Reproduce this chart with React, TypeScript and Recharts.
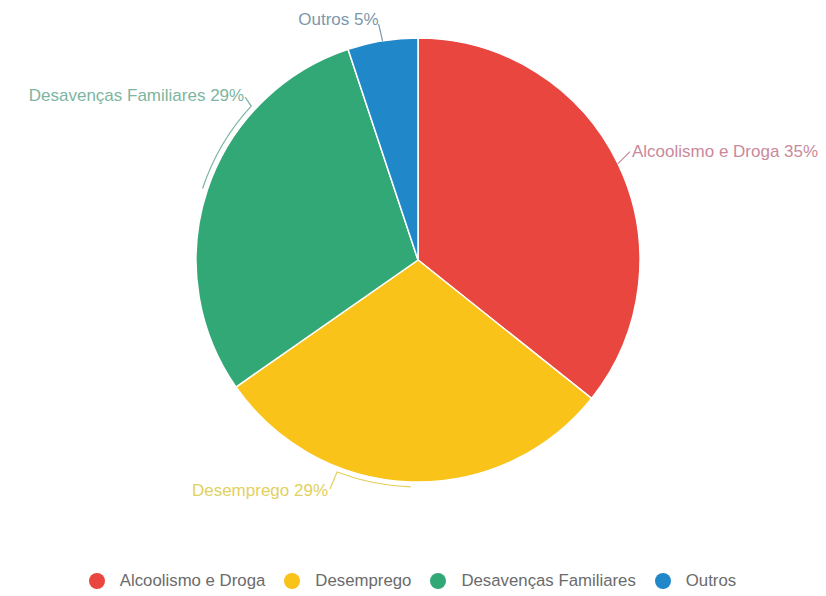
import React from "react";
import { PieChart, Pie, Cell, Legend } from "recharts";

const categories = ["Alcoolismo e Droga", "Desemprego", "Desavenças Familiares", "Outros"];
const percentValues = [35, 29, 29, 5];

const sliceColors = ["#E8463E", "#F9C31A", "#33A877", "#2087C9"];
const labelColors = ["#C9899A", "#E2D060", "#7DB5A0", "#7C97AB"];

const data = categories.map((name, i) => ({ name, value: percentValues[i] }));

const RAD = Math.PI / 180;
const pt = (cx: number, cy: number, r: number, a: number) => ({
  x: cx + r * Math.cos(-a * RAD),
  y: cy + r * Math.sin(-a * RAD),
});

// label-line layout per slice: optional arc along the edge, then a tick, then text
const labelLayout = [
  { arcTo: null, tick: [12, -12], text: [2, 0], anchor: "start" },
  { arcTo: -110.9, tick: [-7, 17], text: [-2, 1], anchor: "end" },
  { arcTo: 137.3, tick: [-6, -9], text: [-1, -2], anchor: "end" },
  { arcTo: null, tick: [-4, -17], text: [0, -4], anchor: "end" },
];

const renderLabel = (props: any) => {
  const { cx, cy, midAngle, outerRadius, index, name, value } = props;
  const L = labelLayout[index];
  const r = outerRadius + (L.arcTo === null ? 0 : 5);
  const s = pt(cx, cy, r, midAngle);
  let d = `M${s.x},${s.y}`;
  let end = s;
  if (L.arcTo !== null) {
    end = pt(cx, cy, r, L.arcTo);
    d += ` A${r},${r} 0 0 1 ${end.x},${end.y}`;
  }
  const t = { x: end.x + L.tick[0], y: end.y + L.tick[1] };
  d += ` L${t.x},${t.y}`;
  return (
    <g>
      <path d={d} fill="none" stroke={labelColors[index]} strokeWidth={1.2} />
      <text
        x={t.x + L.text[0]}
        y={t.y + L.text[1]}
        textAnchor={L.anchor}
        dominantBaseline="central"
        fill={labelColors[index]}
        fontSize={17}
        fontFamily="Liberation Sans, Arial, sans-serif"
      >
        {`${name} ${value}%`}
      </text>
    </g>
  );
};

const renderLegend = (props: any) => {
  const payload = [...(props.payload || [])].sort(
    (a: any, b: any) => categories.indexOf(a.value) - categories.indexOf(b.value)
  );
  return (
    <div
      style={{
        display: "flex",
        justifyContent: "center",
        alignItems: "center",
        height: 20,
        fontFamily: "Liberation Sans, Arial, sans-serif",
        fontSize: 16.8,
        color: "#6b6b6b",
        paddingLeft: 18,
      }}
    >
      {payload.map((entry: any, i: number) => (
        <div key={i} style={{ display: "flex", alignItems: "center", marginRight: 19 }}>
          <svg width={16} height={16} style={{ marginRight: 15 }}>
            <circle cx={8} cy={8} r={8} fill={entry.color} />
          </svg>
          <span>{entry.value}</span>
        </div>
      ))}
    </div>
  );
};

export default function App() {
  return (
    <div style={{ position: "absolute", left: 0, top: 0, background: "#fff" }}>
      <PieChart width={826} height={596} margin={{ top: 0, right: 0, bottom: 5, left: 0 }}>
        <Pie
          data={data}
          dataKey="value"
          nameKey="name"
          cx={418}
          cy={260}
          outerRadius={222}
          startAngle={90}
          endAngle={-270}
          stroke="#ffffff"
          strokeWidth={1.5}
          label={renderLabel}
          labelLine={false}
          isAnimationActive={false}
        >
          {data.map((d, i) => (
            <Cell key={d.name} fill={sliceColors[i]} />
          ))}
        </Pie>
        <Legend verticalAlign="bottom" content={renderLegend} />
      </PieChart>
    </div>
  );
}
